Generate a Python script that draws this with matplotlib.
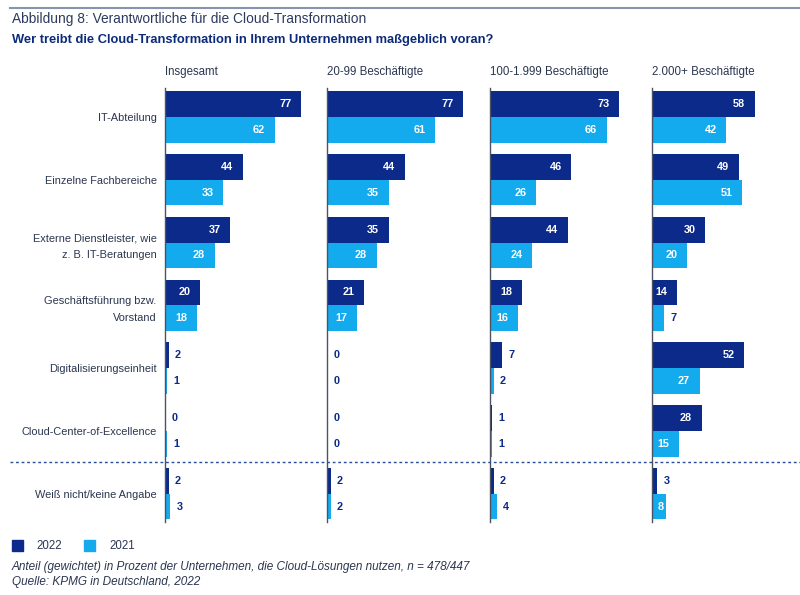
import matplotlib
matplotlib.use("Agg")
import numpy as np
import matplotlib.pyplot as plt
import matplotlib.patches as mpatches
from matplotlib.transforms import blended_transform_factory

plt.rcParams['font.family'] = ['Liberation Sans', 'DejaVu Sans']

categories = ["IT-Abteilung", "Einzelne Fachbereiche",
              "Externe Dienstleister, wie\nz. B. IT-Beratungen",
              "Geschäftsführung bzw.\nVorstand", "Digitalisierungseinheit",
              "Cloud-Center-of-Excellence", "Weiß nicht/keine Angabe"]
panels = ["Insgesamt", "20-99 Beschäftigte", "100-1.999 Beschäftigte", "2.000+ Beschäftigte"]

vals_2022 = [
    [77, 44, 37, 20, 2, 0, 2],
    [77, 44, 35, 21, 0, 0, 2],
    [73, 46, 44, 18, 7, 1, 2],
    [58, 49, 30, 14, 52, 28, 3],
]
vals_2021 = [
    [62, 33, 28, 18, 1, 1, 3],
    [61, 35, 28, 17, 0, 0, 2],
    [66, 26, 24, 16, 2, 1, 4],
    [42, 51, 20, 7, 27, 15, 8],
]

DARK = '#0b2a8a'
LIGHT = '#14aaee'
TXT = '#2b3650'

W, H = 800, 595
fig = plt.figure(figsize=(8, 5.95), dpi=100)

# title block
fig.add_artist(plt.Line2D([10 / W, 1.0], [1 - 8 / H, 1 - 8 / H], color='#8794ad', lw=1.5))
fig.text(12 / W, 1 - 19 / H, "Abbildung 8: Verantwortliche für die Cloud-Transformation",
         fontsize=9.9, color='#2d3a5e', va='center', ha='left')
fig.text(12 / W, 1 - 40 / H, "Wer treibt die Cloud-Transformation in Ihrem Unternehmen maßgeblich voran?",
         fontsize=9.3, color='#0b2a7a', va='center', ha='left', fontweight='bold')

y = np.arange(len(categories))
bh = 0.41
ax_x = [165, 327, 490, 652]
ax_w = 150
scale = 1.77  # px per unit
top, bot = 88, 522

axes = []
for k in range(4):
    ax = fig.add_axes([ax_x[k] / W, 1 - bot / H, ax_w / W, (bot - top) / H])
    axes.append(ax)
    ax.patch.set_visible(False)
    ax.barh(y - bh / 2, vals_2022[k], height=bh, color=DARK, zorder=3)
    ax.barh(y + bh / 2, vals_2021[k], height=bh, color=LIGHT, zorder=3)
    ax.set_xlim(0, ax_w / scale)
    ax.set_ylim(6.45, -0.46)
    for s in ['top', 'right', 'bottom']:
        ax.spines[s].set_visible(False)
    ax.spines['left'].set_color('#4a5263')
    ax.spines['left'].set_linewidth(1.0)
    ax.spines['left'].set_zorder(4)
    ax.set_xticks([])
    ax.tick_params(axis='y', length=0, pad=6)
    if k == 0:
        ax.set_yticks(y)
        ax.set_yticklabels(categories, fontsize=7.9, color=TXT)
        for t in ax.get_yticklabels():
            t.set_linespacing(1.8)
    else:
        ax.set_yticks([])
    ax.text(0, 1 - (72 - top) / (bot - top), panels[k], transform=ax.transAxes,
            fontsize=8.3, color=TXT, va='center', ha='left')
    for vals, off in [(vals_2022[k], -bh / 2), (vals_2021[k], bh / 2)]:
        for i, v in enumerate(vals):
            if v >= 8:
                ax.text(max(v - 5.5, 6.8), y[i] + off, str(v), ha='right', va='center',
                        color='white', fontsize=7.8, fontweight='bold', zorder=5)
            else:
                ax.text(v + 3.5, y[i] + off, str(v), ha='left', va='center',
                        color=DARK, fontsize=7.8, fontweight='bold', zorder=5)

# dotted separator before "Weiß nicht"
tr = blended_transform_factory(fig.transFigure, axes[0].transData)
fig.add_artist(plt.Line2D([10 / W, 1.0], [5.5, 5.5], transform=tr, color='#2a4a9a',
                          lw=1.0, ls=(0, (2, 2))))

# legend
fig.add_artist(mpatches.Rectangle((12 / W, 1 - 551 / H), 11 / W, 11 / H, color=DARK,
                                  transform=fig.transFigure))
fig.text(36 / W, 1 - 546 / H, "2022", fontsize=8.3, color=TXT, va='center')
fig.add_artist(mpatches.Rectangle((84 / W, 1 - 551 / H), 11 / W, 11 / H, color=LIGHT,
                                  transform=fig.transFigure))
fig.text(109 / W, 1 - 546 / H, "2021", fontsize=8.3, color=TXT, va='center')

fig.text(12 / W, 1 - 567 / H,
         "Anteil (gewichtet) in Prozent der Unternehmen, die Cloud-Lösungen nutzen, n = 478/447",
         fontsize=8.5, color=TXT, style='italic', va='center')
fig.text(12 / W, 1 - 582 / H, "Quelle: KPMG in Deutschland, 2022",
         fontsize=8.5, color=TXT, style='italic', va='center')

fig.savefig("out.png", dpi=100, facecolor='white')
